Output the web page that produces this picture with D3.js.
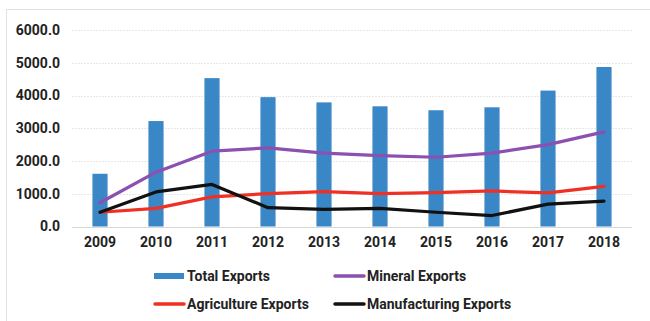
<!DOCTYPE html>
<html>
<head>
<meta charset="utf-8">
<script src="https://cdn.jsdelivr.net/npm/d3@7"></script>
<style>
  body { margin: 0; background: #fff; }
  text { font-family: Roboto, "Noto Sans", sans-serif; font-weight: 700; fill: #222; }
</style>
</head>
<body>
<script>
const years = ["2009", "2010", "2011", "2012", "2013", "2014", "2015", "2016", "2017", "2018"];
const totalExports = [1610, 3220, 4530, 3950, 3790, 3670, 3550, 3640, 4150, 4870];
const mineralExports = [725, 1660, 2300, 2400, 2240, 2165, 2115, 2240, 2500, 2890];
const agricultureExports = [435, 555, 905, 1005, 1065, 1005, 1035, 1085, 1025, 1225];
const manufacturingExports = [435, 1055, 1285, 575, 525, 555, 435, 335, 685, 775];
const yTicks = [0, 1000, 2000, 3000, 4000, 5000, 6000];

const width = 650;
const height = 321;

const svg = d3.select("body")
    .append("svg")
    .attr("width", width)
    .attr("height", height);

// frame
svg.append("path")
    .attr("d", "M6.5,321 V9.5 H650")
    .attr("fill", "none")
    .attr("stroke", "#e3e3e3");

const x = d3.scaleBand()
    .domain(years)
    .range([72, 632])
    .paddingInner(0.73)
    .paddingOuter(0.365);

const y = d3.scaleLinear()
    .domain([0, 6000])
    .range([226.5, 30]);

// grid
svg.append("g")
    .selectAll("line")
    .data(yTicks)
    .join("line")
    .attr("x1", 72)
    .attr("x2", 632)
    .attr("y1", d => Math.round(y(d)) + 0.5)
    .attr("y2", d => Math.round(y(d)) + 0.5)
    .attr("stroke", d => d === 0 ? "#d9d9d9" : "#e8e8e8")
    .attr("stroke-dasharray", d => d === 0 ? null : "2,1");

// y labels
const yAxis = svg.append("g")
    .attr("transform", "translate(60,0)")
    .call(d3.axisLeft(y).tickValues(yTicks).tickFormat(d3.format(".1f")).tickSize(0).tickPadding(0));
yAxis.select(".domain").remove();
yAxis.selectAll("text")
    .attr("font-size", 14)
    .attr("font-family", null)
    .attr("fill", "#222");

// x labels
const xAxis = svg.append("g")
    .attr("transform", "translate(0,232)")
    .call(d3.axisBottom(x).tickSize(0).tickPadding(5));
xAxis.select(".domain").remove();
xAxis.selectAll("text")
    .attr("font-size", 14)
    .attr("font-family", null)
    .attr("fill", "#222");

// bars
svg.append("g")
    .selectAll("rect")
    .data(totalExports)
    .join("rect")
    .attr("x", (d, i) => x(years[i]))
    .attr("width", x.bandwidth())
    .attr("y", d => y(d))
    .attr("height", d => y(0) - y(d))
    .attr("fill", "#3a87c8");

const line = d3.line()
    .x((d, i) => x(years[i]) + x.bandwidth() / 2)
    .y(d => y(d));

const series = [
    { values: mineralExports, color: "#8b50b0" },
    { values: agricultureExports, color: "#ee3124" },
    { values: manufacturingExports, color: "#111111" }
];

series.forEach(s => {
    svg.append("path")
        .datum(s.values)
        .attr("d", line)
        .attr("fill", "none")
        .attr("stroke", s.color)
        .attr("stroke-width", 3.2)
        .attr("stroke-linejoin", "round")
        .attr("stroke-linecap", "round");
});

// legend
const legend = [
    { name: "Total Exports", color: "#3a87c8", type: "bar", x: 154, y: 276 },
    { name: "Mineral Exports", color: "#8b50b0", type: "line", x: 334, y: 276 },
    { name: "Agriculture Exports", color: "#ee3124", type: "line", x: 154, y: 304 },
    { name: "Manufacturing Exports", color: "#111111", type: "line", x: 334, y: 304 }
];

legend.forEach(l => {
    const g = svg.append("g").attr("transform", `translate(${l.x},${l.y})`);
    if (l.type === "bar") {
        g.append("rect").attr("x", 0).attr("y", -3).attr("width", 30).attr("height", 6).attr("fill", l.color);
    } else {
        g.append("line").attr("x1", 1).attr("x2", 30).attr("y1", 0).attr("y2", 0)
            .attr("stroke", l.color).attr("stroke-width", 3.5).attr("stroke-linecap", "round");
    }
    g.append("text")
        .attr("x", 33)
        .attr("y", 0)
        .attr("dy", "0.35em")
        .attr("font-size", 14)
        .text(l.name);
});
</script>
</body>
</html>
